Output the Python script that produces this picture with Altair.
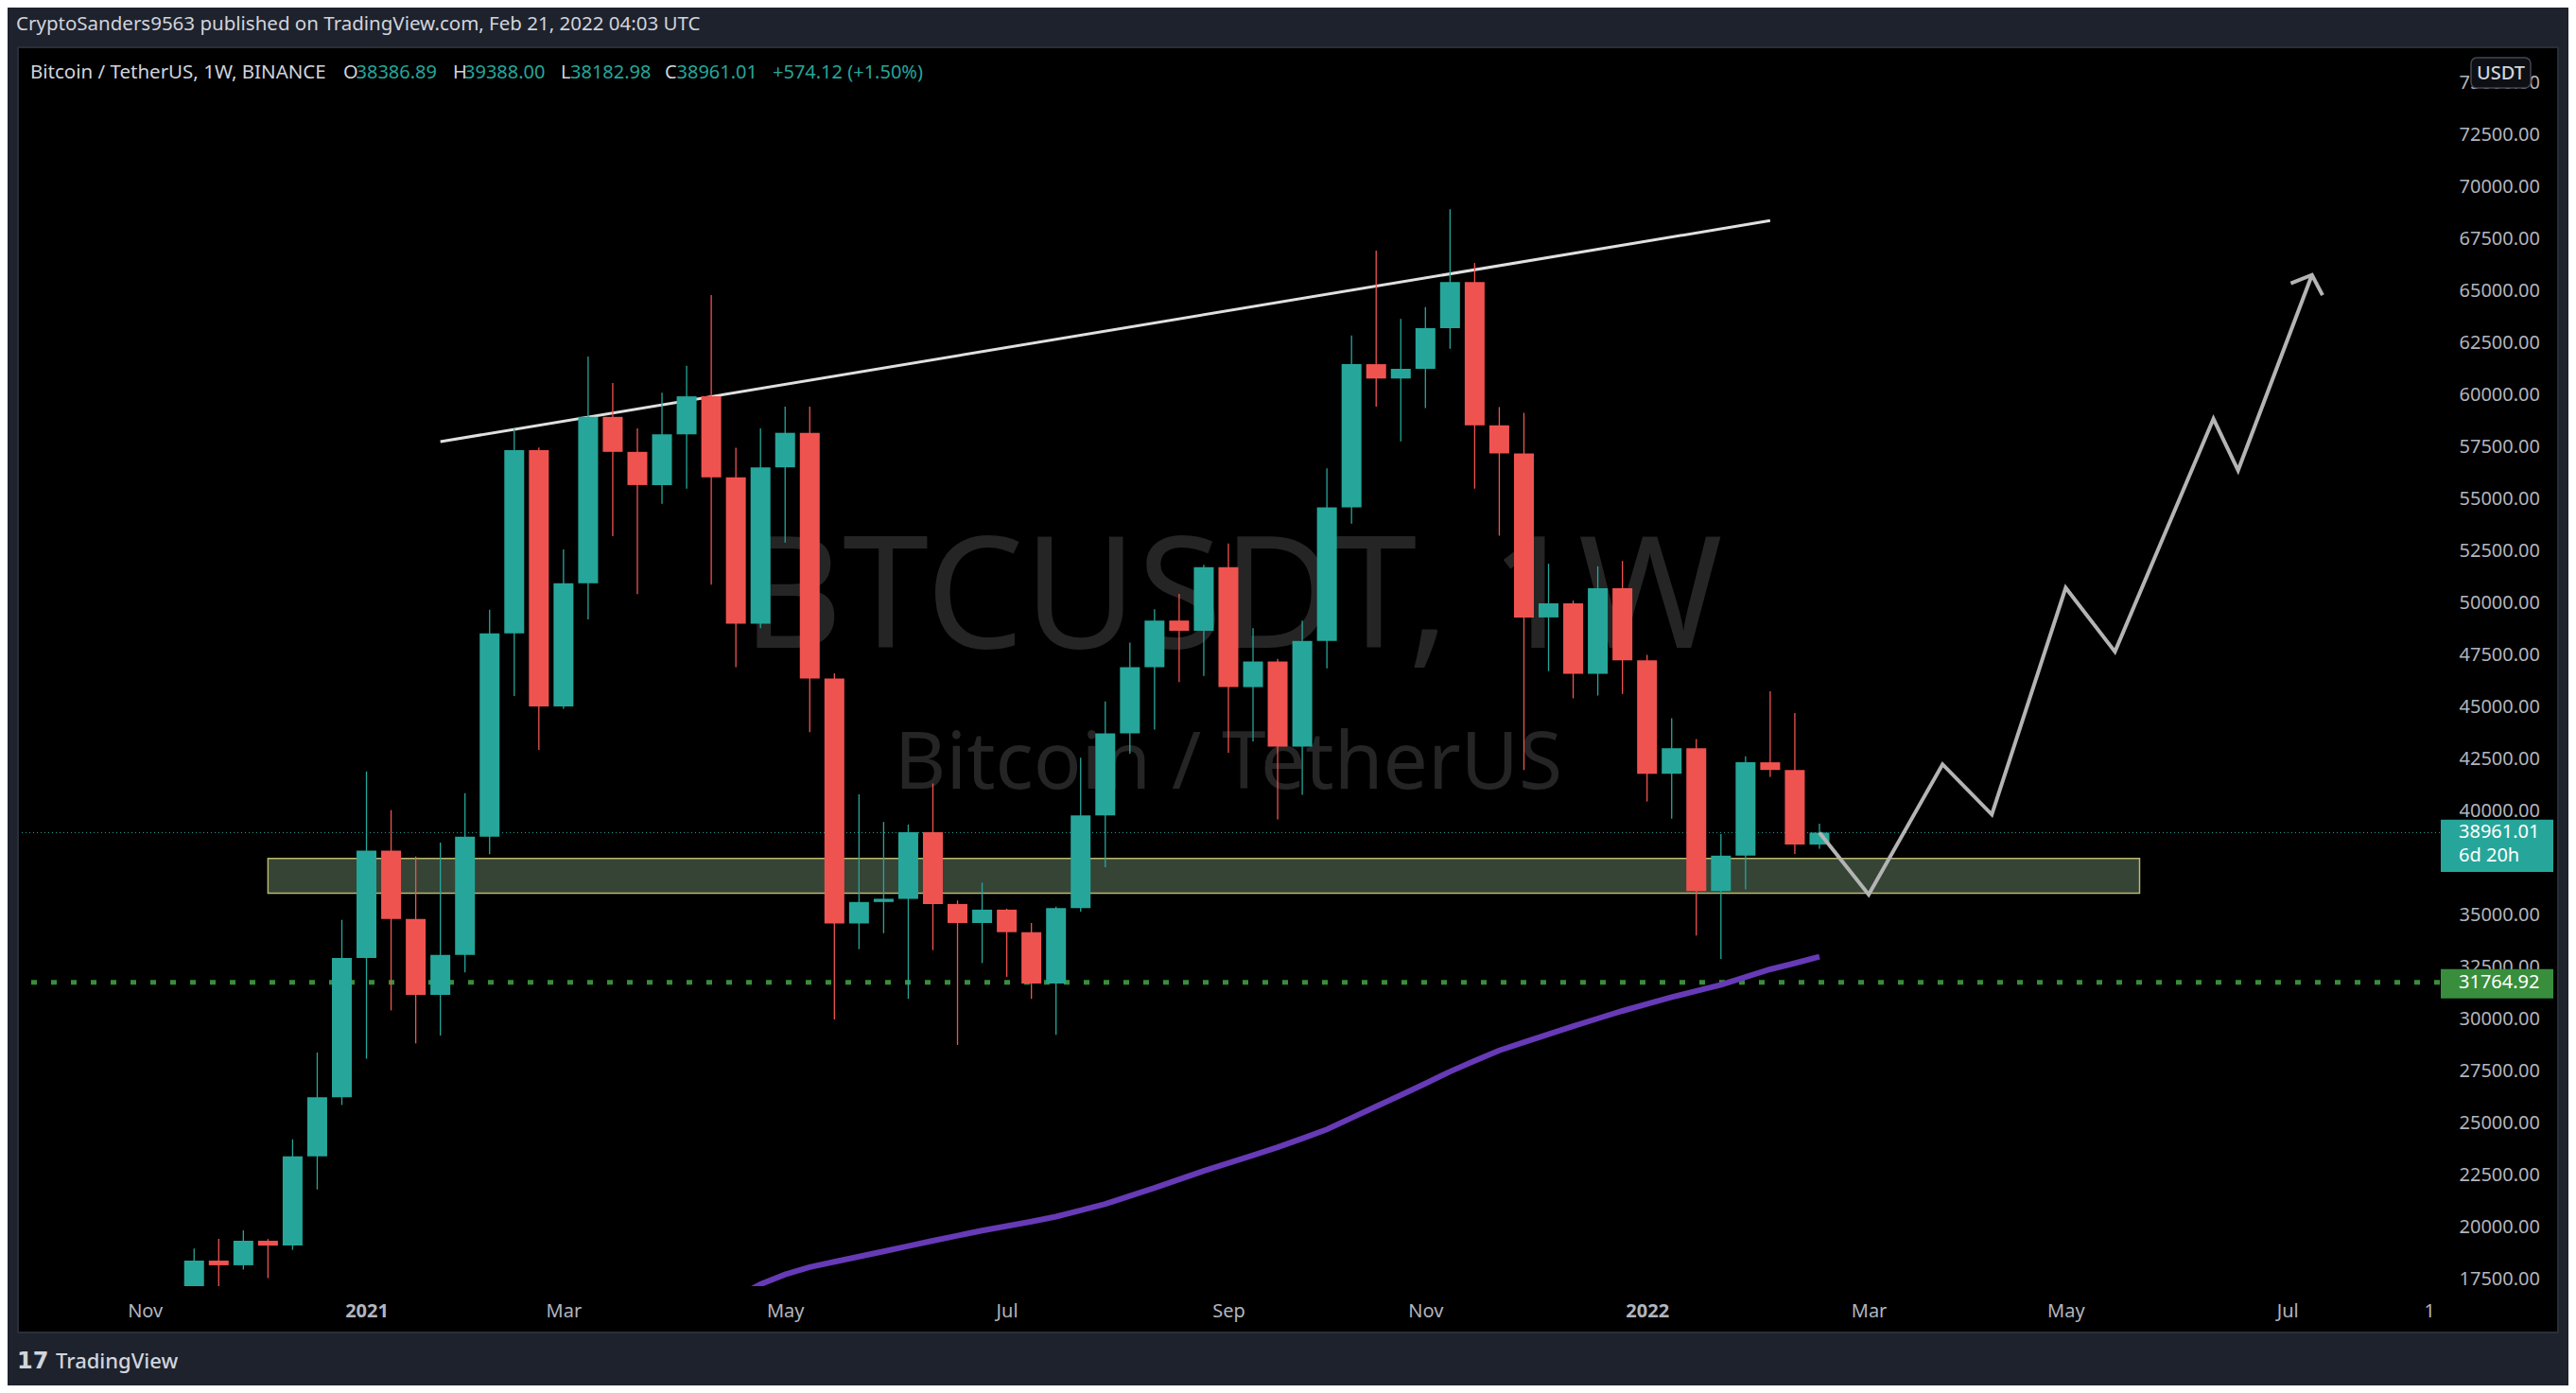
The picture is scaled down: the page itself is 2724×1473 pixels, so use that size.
import altair as alt
import pandas as pd

# ---------------- data ----------------
# weekly bars; week 0 = week of 4 Jan 2021
weeks = list(range(-7, 60))
opens = [15957, 18386, 18162, 19340, 19108, 23400, 26242, 32938, 38098, 34811,
         31156, 33083, 38766, 48537, 57352, 45027, 50946, 58947, 57265, 55669,
         58107, 59934, 56040, 49010, 56520, 58180, 46373, 34593, 35625, 35780,
         38980, 35530, 34616, 35257, 34175, 31707, 35330, 39790, 43736, 46913,
         49155, 48664, 51720, 45955, 47186, 43095, 48173, 54600, 61480, 60790,
         61257, 63210, 65430, 58540, 57190, 49305, 49982, 46590, 50713, 47245,
         41790, 43017, 36152, 37852, 42340, 41972, 38386.89]
highs = [18963, 19430, 19840, 19420, 24215, 28388, 34766, 41899, 40044, 37813,
         38481, 40854, 49670, 58366, 57470, 52569, 61844, 60570, 58398, 60107,
         61407, 64808, 57461, 58398, 59434, 59434, 46618, 40804, 39472, 39350,
         41322, 35700, 36560, 35300, 34616, 35400, 42555, 45263, 48095, 49700,
         50437, 51840, 52855, 48790, 47310, 49155, 56475, 62857, 66944, 63650,
         64220, 68931, 66344, 59420, 59145, 51887, 50114, 51760, 52019, 47504,
         44454, 43463, 38893, 42626, 45759, 44713, 39388.00]
lows = [15786, 16188, 17949, 17545, 18900, 21806, 25864, 28096, 30415, 28824,
        29205, 32243, 37925, 45522, 42940, 44913, 49205, 53206, 50424, 54770,
        55492, 50883, 46913, 48790, 52901, 43785, 29983, 33358, 34125, 30970,
        33310, 28751, 32690, 32029, 30970, 29241, 35160, 37302, 42750, 43910,
        46200, 46490, 42800, 43345, 39595, 40775, 46862, 53815, 59434, 57770,
        59370, 62222, 55495, 53235, 41972, 46723, 45418, 45550, 45627, 40457,
        39627, 34016, 32893, 36234, 41636, 37930, 38182.98]
closes = [18386, 18162, 19340, 19108, 23400, 26242, 32938, 38098, 34811, 31156,
          33083, 38766, 48537, 57352, 45027, 50946, 58947, 57265, 55669, 58107,
          59934, 56040, 49010, 56520, 58180, 46373, 34593, 35625, 35780, 38980,
          35530, 34616, 35257, 34175, 31707, 35330, 39790, 43736, 46913, 49155,
          48664, 51720, 45955, 47186, 43095, 48173, 54600, 61480, 60790, 61257,
          63210, 65430, 58540, 57190, 49305, 49982, 46590, 50713, 47245, 41790,
          43017, 36152, 37852, 42340, 41972, 38387, 38961.01]

ma_weeks = list(range(14, 60))
ma_values = [15800, 16612, 17249, 17722, 18072, 18331, 18576, 18826, 19085, 19340,
             19586, 19831, 20045, 20259, 20500, 20800, 21104, 21490, 21882, 22286,
             22695, 23073, 23450, 23832, 24255, 24691, 25246, 25800, 26342, 26901,
             27473, 27992, 28492, 28878, 29269, 29656, 30024, 30388, 30719, 31051,
             31347, 31642, 32015, 32388, 32683, 32993]

trend_weeks = [3, 57]
trend_prices = [57756, 68381]
zone_weeks = [-4, 72]
zone_prices = [37721, 36043]
support_level = 31764.92
proj_weeks = [59, 61, 64, 66, 69, 71, 75, 76, 79]
proj_prices = [38961, 35984, 42244, 39830, 50728, 47659, 58857, 56379, 65771]
arrow_weeks = [78.14, 79, 79.43]
arrow_prices = [65362, 65771, 64794]

tick_weeks = [-9, 0, 8, 17, 26, 35, 43, 52, 61, 69, 78, 83.76]
tick_labels = ["Nov", "2021", "Mar", "May", "Jul", "Sep", "Nov", "2022",
               "Mar", "May", "Jul", "1"]
year_ticks = [0, 52]
price_ticks = list(range(17500, 75001, 2500))

# ---------------- styles ----------------
GREEN = "#26a69a"
RED = "#ef5350"
FRAME = "#1e222d"
TXT = "#d1d4dc"
AXT = "#b2b5be"
FONT = "Noto Sans"

W, H = 2561, 1310            # price pane
PW, PH = 2686, 1359          # whole black panel

last_open, last_close = opens[-1], closes[-1]
chg = last_close - last_open
pct = chg / last_open * 100

label_expr = " : ".join(f"datum.value == {v} ? '{l}'" for v, l in zip(tick_weeks, tick_labels)) + " : ''"
bold_test = " || ".join(f"datum.value == {v}" for v in year_ticks)

XS = alt.Scale(domain=[-13.96, 84.0], nice=False, zero=False)
YS = alt.Scale(domain=[17158, 76714], nice=False, zero=False)
x_axis = alt.Axis(values=tick_weeks, labelExpr=label_expr, title=None, domain=False,
                  ticks=False, tickSize=0, grid=False, labelPadding=26,
                  labelBaseline="middle", labelFontSize=20, labelFont=FONT,
                  labelColor=AXT, labelOverlap=False, labelFlush=False,
                  labelFontWeight={"condition": {"test": bold_test, "value": 700}, "value": 400})
y_axis = alt.Axis(orient="right", values=price_ticks, format=".2f", title=None,
                  domain=False, ticks=False, tickSize=0, grid=False, labelPadding=20,
                  labelFontSize=20, labelFont=FONT, labelColor=AXT,
                  labelOverlap=False, labelFlush=False)


def X(field=None, **kw):
    if field is None:
        return alt.X(type="quantitative", scale=XS, axis=x_axis, **kw)
    return alt.X(field, type="quantitative", scale=XS, axis=x_axis)


def Y(field=None, **kw):
    if field is None:
        return alt.Y(type="quantitative", scale=YS, axis=y_axis, **kw)
    return alt.Y(field, type="quantitative", scale=YS, axis=y_axis)


candles = pd.DataFrame({"week": weeks, "open": opens, "high": highs,
                        "low": lows, "close": closes})
candles["dir"] = ["up" if c >= o else "down" for o, c in zip(opens, closes)]
ma_df = pd.DataFrame({"week": ma_weeks, "ma": ma_values})
trend_df = pd.DataFrame({"week": trend_weeks, "price": trend_prices})
zone_df = pd.DataFrame({"w1": [zone_weeks[0]], "w2": [zone_weeks[1]],
                        "p1": [zone_prices[0]], "p2": [zone_prices[1]]})
proj_df = pd.DataFrame({"week": proj_weeks, "price": proj_prices, "i": range(len(proj_weeks))})
arrow_df = pd.DataFrame({"week": arrow_weeks, "price": arrow_prices, "i": range(len(arrow_weeks))})
one = pd.DataFrame({"_": [0]})

color = alt.Color("dir:N", scale=alt.Scale(domain=["up", "down"], range=[GREEN, RED]), legend=None)

layers = []

# watermark
layers.append(alt.Chart(one).mark_text(text="BTCUSDT, 1W", font=FONT, fontSize=164,
                                       color="#252525", align="center", baseline="alphabetic")
              .encode(x=alt.value(1284), y=alt.value(635)))
layers.append(alt.Chart(one).mark_text(text="Bitcoin / TetherUS", font=FONT, fontSize=84,
                                       color="#252525", align="center", baseline="alphabetic")
              .encode(x=alt.value(1280), y=alt.value(784)))

# support zone
layers.append(alt.Chart(zone_df).mark_rect(fill="#364436", stroke="#b9b86c", strokeWidth=1.5, clip=True)
              .encode(x=X("w1"), x2="w2", y=Y("p1"), y2="p2"))

# horizontal levels
layers.append(alt.Chart(one).mark_rule(color="#388e3c", strokeWidth=5, strokeDash=[6, 15], clip=True)
              .encode(y=Y(datum=support_level)))
layers.append(alt.Chart(one).mark_rule(color=GREEN, strokeWidth=1, strokeDash=[1, 3], clip=True)
              .encode(y=Y(datum=last_close)))

# moving average
layers.append(alt.Chart(ma_df).mark_line(color="#673ab7", strokeWidth=6, clip=True)
              .encode(x=X("week"), y=Y("ma")))

# trend line
layers.append(alt.Chart(trend_df).mark_line(color="#e0e0e0", strokeWidth=3, clip=True)
              .encode(x=X("week"), y=Y("price")))

# candles
layers.append(alt.Chart(candles).mark_rule(strokeWidth=1.3, clip=True)
              .encode(x=X("week"), y=Y("low"), y2="high", color=color))
layers.append(alt.Chart(candles).mark_bar(size=21, clip=True)
              .encode(x=X("week"), y=Y("open"), y2="close", color=color))

# projection path + arrow head
layers.append(alt.Chart(proj_df).mark_line(color="#b4b4b4", strokeWidth=4, clip=True, strokeJoin="miter")
              .encode(x=X("week"), y=Y("price"), order="i:Q"))
layers.append(alt.Chart(arrow_df).mark_line(color="#b4b4b4", strokeWidth=4, clip=True, strokeJoin="miter")
              .encode(x=X("week"), y=Y("price"), order="i:Q"))

# outer frame around the black panel
for (x1, x2, y1, y2) in [(-40, 2740, -80, 0), (-40, 2740, PH, PH + 120),
                         (-40, 0, -1, PH + 1), (PW, 2740, -1, PH + 1)]:
    layers.append(alt.Chart(one).mark_rect(color=FRAME)
                  .encode(x=alt.value(x1), x2=alt.value(x2), y=alt.value(y1), y2=alt.value(y2)))
layers.append(alt.Chart(one).mark_rect(fill="black", fillOpacity=0, stroke="#2a2e39", strokeWidth=2)
              .encode(x=alt.value(0), x2=alt.value(PW), y=alt.value(0), y2=alt.value(PH)))

# header texts
layers.append(alt.Chart(one).mark_text(text="CryptoSanders9563 published on TradingView.com, Feb 21, 2022 04:03 UTC",
                                       font=FONT, fontSize=20.5, color=TXT, align="left", baseline="middle")
              .encode(x=alt.value(-2), y=alt.value(-24)))
hdr = [("Bitcoin / TetherUS, 1W, BINANCE", 13, TXT, 20.5),
       ("O", 344, TXT, 20), (f"{last_open:.2f}", 357.5, GREEN, 20),
       ("H", 460, TXT, 20), (f"{highs[-1]:.2f}", 472, GREEN, 20),
       ("L", 574, TXT, 20), (f"{lows[-1]:.2f}", 584, GREEN, 20),
       ("C", 684, TXT, 20), (f"{last_close:.2f}", 696.5, GREEN, 20),
       (f"+{chg:.2f} (+{pct:.2f}%)", 798, GREEN, 20)]
for t, xx, c, fs in hdr:
    layers.append(alt.Chart(one).mark_text(text=t, font=FONT, fontSize=fs, color=c,
                                           align="left", baseline="middle")
                  .encode(x=alt.value(xx), y=alt.value(26.5)))

# footer logo
layers.append(alt.Chart(one).mark_text(text="17", font="DejaVu Sans", fontWeight="bold", fontSize=24,
                                       color=TXT, align="left", baseline="middle")
              .encode(x=alt.value(-1), y=alt.value(1390)))
layers.append(alt.Chart(one).mark_text(text="TradingView", font=FONT, fontSize=22, fontWeight=500,
                                       color=TXT, align="left", baseline="middle")
              .encode(x=alt.value(40), y=alt.value(1390)))

# USDT badge
layers.append(alt.Chart(one).mark_rect(fill="#0d0f14", stroke="#434651", strokeWidth=1.5, cornerRadius=6)
              .encode(x=alt.value(2594), x2=alt.value(2657), y=alt.value(11), y2=alt.value(43)))
layers.append(alt.Chart(one).mark_text(text="USDT", font=FONT, fontSize=20, fontWeight=500, color=TXT,
                                       align="center", baseline="middle")
              .encode(x=alt.value(2625.5), y=alt.value(27.5)))

# price scale badges
layers.append(alt.Chart(one).mark_rect(fill=GREEN, yOffset=-13.6, y2Offset=41.7)
              .encode(x=alt.value(2562), x2=alt.value(2681), y=Y(datum=last_close), y2=alt.Y2(datum=last_close)))
layers.append(alt.Chart(one).mark_text(text=f"{last_close:.2f}", font=FONT, fontSize=20, color="white",
                                       align="left", baseline="middle")
              .encode(x=alt.value(2581), y=Y(datum=last_close)))
layers.append(alt.Chart(one).mark_text(text="6d 20h", font=FONT, fontSize=20, color="white",
                                       align="left", baseline="middle", yOffset=25)
              .encode(x=alt.value(2581), y=Y(datum=last_close)))
layers.append(alt.Chart(one).mark_rect(fill="#388e3c", yOffset=-14, y2Offset=17)
              .encode(x=alt.value(2562), x2=alt.value(2681), y=Y(datum=support_level), y2=alt.Y2(datum=support_level)))
layers.append(alt.Chart(one).mark_text(text=f"{support_level:.2f}", font=FONT, fontSize=20, color="white",
                                       align="left", baseline="middle")
              .encode(x=alt.value(2581), y=Y(datum=support_level)))

chart = (alt.layer(*layers)
         .properties(width=W, height=H, background="#000000",
                     padding={"left": 11, "top": 42, "right": 136, "bottom": 105},
                     autosize="none")
         .configure_view(strokeWidth=0))

chart.save("out.html", embed_options={"renderer": "svg", "actions": False})
